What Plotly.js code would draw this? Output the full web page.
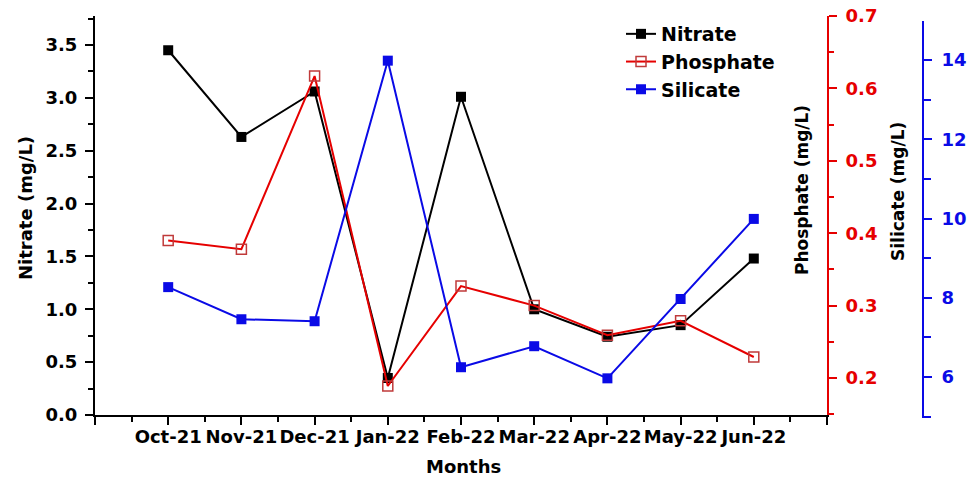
<!DOCTYPE html>
<html>
<head>
<meta charset="utf-8">
<script src="https://cdn.plot.ly/plotly-3.0.1.min.js"></script>
<style>html,body{margin:0;padding:0;background:#fff;}#chart{width:976px;height:483px;}</style>
</head>
<body>
<div id="chart"></div>
<script>
const categories = ['Oct-21','Nov-21','Dec-21','Jan-22','Feb-22','Mar-22','Apr-22','May-22','Jun-22'];
const nitrate   = [3.45, 2.63, 3.06, 0.35, 3.01, 1.00, 0.74, 0.85, 1.48];
const phosphate = [0.390, 0.378, 0.617, 0.189, 0.327, 0.300, 0.259, 0.279, 0.229];
const silicate  = [8.27, 7.46, 7.41, 13.98, 6.25, 6.78, 5.97, 7.97, 9.99];
const nitrateTicks = [0, 0.5, 1.0, 1.5, 2.0, 2.5, 3.0, 3.5];
const phosphateTicks = [0.2, 0.3, 0.4, 0.5, 0.6, 0.7];
const silicateTicks = [6, 8, 10, 12, 14];

const W = 976, H = 483, ML = 95, MR = 40, MT = 15, MB = 65;
const PW = W - ML - MR, PH = H - MT - MB;
const px2x = p => (p - ML) / PW;
const py2y = p => (H - MB - p) / PH;

const xs = categories.map((c, i) => i);
const xTickVals = [-1].concat(xs, [categories.length]);
const xTickText = [''].concat(categories, ['']);

const F = 'DejaVu Sans, Arial, sans-serif';
const RED = '#e60000', BLUE = '#0a0ae6';

const traces = [
  {x: xs, y: nitrate, name: 'Nitrate', type: 'scatter', mode: 'lines+markers',
   xaxis: 'x', yaxis: 'y',
   line: {color: '#000000', width: 2}, marker: {symbol: 'square', size: 10, color: '#000000'}},
  {x: xs, y: phosphate, name: 'Phosphate', type: 'scatter', mode: 'lines+markers',
   xaxis: 'x', yaxis: 'y2',
   line: {color: RED, width: 2}, marker: {symbol: 'square-open', size: 10, color: '#c03a3a', line: {width: 1.5}}},
  {x: xs, y: silicate, name: 'Silicate', type: 'scatter', mode: 'lines+markers',
   xaxis: 'x2', yaxis: 'y3',
   line: {color: BLUE, width: 2}, marker: {symbol: 'square', size: 10, color: BLUE}}
];

const tickFont = c => ({family: F, size: 18, weight: 'bold', color: c});

const layout = {
  width: W, height: H,
  margin: {l: ML, r: MR, t: MT, b: MB, pad: 0},
  paper_bgcolor: '#ffffff', plot_bgcolor: 'rgba(0,0,0,0)',
  showlegend: true,
  legend: {x: px2x(621), y: py2y(15), xanchor: 'left', yanchor: 'top',
           font: {family: F, size: 19, weight: 'bold', color: '#000'},
           bgcolor: 'rgba(0,0,0,0)', borderwidth: 0, itemwidth: 30, tracegroupgap: 0},
  xaxis: {domain: [0, px2x(827)], range: [-1, categories.length], anchor: 'y',
          tickmode: 'array', tickvals: xTickVals, ticktext: xTickText,
          ticks: 'outside', ticklen: 8, tickwidth: 2, tickcolor: '#000',
          showline: true, linewidth: 2, linecolor: '#000', showgrid: false, zeroline: false,
          tickfont: tickFont('#000'), ticklabelstandoff: -4,
          minor: {tickmode: 'linear', tick0: -0.5, dtick: 1, ticks: 'outside', ticklen: 5, tickwidth: 2, tickcolor: '#000', showgrid: false}},
  xaxis2: {domain: [0, px2x(827)], range: [-1, categories.length], anchor: 'y3', visible: false,
           showgrid: false, zeroline: false},
  yaxis: {domain: [py2y(415), py2y(16)], range: [0, 3.774], anchor: 'x',
          tickmode: 'array', tickvals: nitrateTicks, tickformat: '.1f',
          ticks: 'outside', ticklen: 8, tickwidth: 2, tickcolor: '#000',
          showline: true, linewidth: 2, linecolor: '#000', showgrid: false, zeroline: false,
          tickfont: tickFont('#000'), ticklabelstandoff: 4,
          minor: {tickmode: 'linear', tick0: 0, dtick: 0.25, ticks: 'outside', ticklen: 5, tickwidth: 2, tickcolor: '#000', showgrid: false}},
  yaxis2: {overlaying: 'y', side: 'right', anchor: 'x', range: [0.1489, 0.7],
           tickmode: 'array', tickvals: phosphateTicks, tickformat: '.1f',
           ticks: 'outside', ticklen: 8, tickwidth: 2, tickcolor: RED,
           showline: true, linewidth: 2, linecolor: RED, showgrid: false, zeroline: false,
           tickfont: tickFont(RED), ticklabelstandoff: 5,
           minor: {tickmode: 'linear', tick0: 0.15, dtick: 0.05, ticks: 'outside', ticklen: 5, tickwidth: 2, tickcolor: RED, showgrid: false}},
  yaxis3: {domain: [0, py2y(21)], anchor: 'free', position: px2x(923), side: 'right',
           range: [4.97, 14.98],
           tickmode: 'array', tickvals: silicateTicks,
           ticks: 'outside', ticklen: 8, tickwidth: 2, tickcolor: BLUE,
           showline: true, linewidth: 2, linecolor: BLUE, showgrid: false, zeroline: false,
           tickfont: tickFont(BLUE), ticklabelstandoff: 6,
           minor: {tickmode: 'linear', tick0: 5, dtick: 1, ticks: 'outside', ticklen: 7, tickwidth: 2, tickcolor: BLUE, showgrid: false}},
  annotations: [
    {text: 'Nitrate (mg/L)', xref: 'paper', yref: 'paper', x: px2x(25), y: py2y(208),
     xanchor: 'center', yanchor: 'middle', textangle: -90, showarrow: false,
     font: {family: F, size: 18, weight: 'bold', color: '#000'}},
    {text: 'Phosphate (mg/L)', xref: 'paper', yref: 'paper', x: px2x(802), y: py2y(190),
     xanchor: 'center', yanchor: 'middle', textangle: -90, showarrow: false,
     font: {family: F, size: 17, weight: 'bold', color: '#000'}},
    {text: 'Silicate (mg/L)', xref: 'paper', yref: 'paper', x: px2x(898), y: py2y(192),
     xanchor: 'center', yanchor: 'middle', textangle: -90, showarrow: false,
     font: {family: F, size: 17, weight: 'bold', color: '#000'}},
    {text: 'Months', xref: 'paper', yref: 'paper', x: px2x(463), y: py2y(467),
     xanchor: 'center', yanchor: 'middle', showarrow: false,
     font: {family: F, size: 18, weight: 'bold', color: '#000'}}
  ]
};

Plotly.newPlot('chart', traces, layout, {displayModeBar: false, staticPlot: true});
</script>
</body>
</html>
